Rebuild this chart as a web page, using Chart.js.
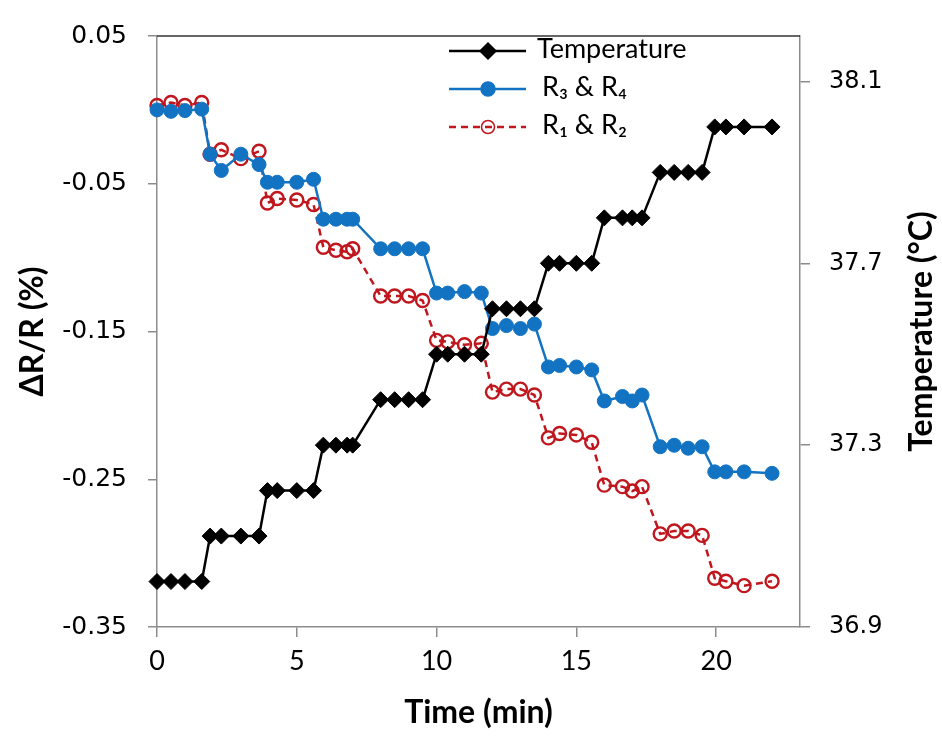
<!DOCTYPE html>
<html>
<head>
<meta charset="utf-8">
<script src="https://cdn.jsdelivr.net/npm/chart.js@4.4.1/dist/chart.umd.min.js"></script>
<style>
html, body { margin: 0; padding: 0; background: #fff; }
#wrap { width: 942px; height: 737px; }
</style>
</head>
<body>
<div id="wrap"><canvas id="myChart" width="942" height="737"></canvas></div>
<script>
// time of each reading (min)
var times = [
	0, 0.5, 1.0, 1.6,
	1.9, 2.3, 3.0, 3.65,
	3.95, 4.3, 5.0, 5.6,
	5.95, 6.4, 6.8, 7.0,
	8.0, 8.5, 9.0, 9.5,
	10.0, 10.4, 11.0, 11.6,
	12.0, 12.5, 13.0, 13.5,
	14.0, 14.4, 15.0, 15.55,
	16.0, 16.65, 17.0, 17.35,
	18.0, 18.5, 19.0, 19.5,
	19.95, 20.35, 21.0, 22.0
];
// temperature (°C), right axis
var temperature = [
	37.0, 37.0, 37.0, 37.0,
	37.1, 37.1, 37.1, 37.1,
	37.2, 37.2, 37.2, 37.2,
	37.3, 37.3, 37.3, 37.3,
	37.4, 37.4, 37.4, 37.4,
	37.5, 37.5, 37.5, 37.5,
	37.6, 37.6, 37.6, 37.6,
	37.7, 37.7, 37.7, 37.7,
	37.8, 37.8, 37.8, 37.8,
	37.9, 37.9, 37.9, 37.9,
	38.0, 38.0, 38.0, 38.0
];
// dR/R (%) of R3 & R4
var r34 = [
	0.000, -0.001, -0.0005, 0.0005,
	-0.030, -0.041, -0.030, -0.037,
	-0.049, -0.049, -0.049, -0.047,
	-0.074, -0.074, -0.074, -0.074,
	-0.094, -0.094, -0.094, -0.094,
	-0.124, -0.124, -0.123, -0.124,
	-0.148, -0.146, -0.148, -0.145,
	-0.174, -0.173, -0.174, -0.176,
	-0.197, -0.194, -0.197, -0.193,
	-0.228, -0.227, -0.229, -0.228,
	-0.245, -0.245, -0.245, -0.246
];
// dR/R (%) of R1 & R2
var r12 = [
	0.003, 0.005, 0.003, 0.005,
	-0.030, -0.027, -0.033, -0.028,
	-0.063, -0.060, -0.061, -0.064,
	-0.093, -0.095, -0.096, -0.094,
	-0.126, -0.126, -0.126, -0.129,
	-0.156, -0.157, -0.159, -0.158,
	-0.191, -0.189, -0.189, -0.193,
	-0.222, -0.219, -0.220, -0.225,
	-0.254, -0.255, -0.258, -0.255,
	-0.287, -0.285, -0.285, -0.288,
	-0.317, -0.319, -0.322, -0.319
];
var timeTicks = [0, 5, 10, 15, 20];
var ratioTicks = [-0.35, -0.25, -0.15, -0.05, 0.05];
var tempTicks = [36.9, 37.3, 37.7, 38.1];

var axisGray = '#8c8c8c';
var titleFont = {family: 'Lato', size: 32, weight: 'bold'};

function toPoints(ys) {
	return ys.map(function(y, i) { return {x: times[i], y: y}; });
}

function fixedTicks(list) {
	return function(scale) {
		scale.ticks = list.map(function(v) { return {value: v}; });
	};
}

// legend with a line sample and marker, plus the plot top border and right title
var extras = {
	id: 'extras',
	afterDraw: function(chart) {
		var ctx = chart.ctx;
		var area = chart.chartArea;
		ctx.save();
		ctx.strokeStyle = '#333';
		ctx.lineWidth = 1.5;
		ctx.beginPath();
		ctx.moveTo(area.left, area.top);
		ctx.lineTo(area.right, area.top);
		ctx.stroke();

		var rows = [0, 1, 2];
		for (var i in rows) {
			var ds = chart.data.datasets[i];
			var y = 51 + i * 38;
			ctx.save();
			ctx.strokeStyle = ds.borderColor;
			ctx.lineWidth = ds.borderWidth;
			ctx.setLineDash(ds.borderDash || []);
			ctx.beginPath();
			ctx.moveTo(449, y);
			ctx.lineTo(526, y);
			ctx.stroke();
			ctx.restore();
			ctx.save();
			ctx.strokeStyle = ds.borderColor;
			ctx.fillStyle = ds.pointBackgroundColor;
			Chart.helpers.drawPoint(ctx, {
				pointStyle: ds.pointStyle,
				radius: ds.pointRadius,
				rotation: 0,
				borderWidth: ds.pointBorderWidth
			}, 488, y);
			ctx.restore();
			ctx.fillStyle = '#000';
			ctx.font = '27px Lato';
			ctx.textBaseline = 'middle';
			ctx.textAlign = 'left';
			ctx.fillText(ds.label, i == 0 ? 537 : 542, y - 2);
		}

		ctx.translate(922, (area.top + area.bottom) / 2);
		ctx.rotate(-Math.PI / 2);
		ctx.font = 'bold 32px Lato';
		ctx.textAlign = 'center';
		ctx.textBaseline = 'middle';
		ctx.fillText('Temperature (°C)', 0, 0);
		ctx.restore();
	}
};

var ctx = document.getElementById('myChart');
var myChart = new Chart(ctx, {
	type: 'line',
	data: {
		datasets: [{
			label: 'Temperature',
			data: toPoints(temperature),
			yAxisID: 'y2',
			borderColor: '#000',
			borderWidth: 2.5,
			pointStyle: 'rectRot',
			pointRadius: 8,
			pointBorderWidth: 1,
			pointBackgroundColor: '#000',
			pointBorderColor: '#000',
			clip: false,
			order: 0
		}, {
			label: 'R₃ & R₄',
			data: toPoints(r34),
			yAxisID: 'y',
			borderColor: '#1373c3',
			borderWidth: 2.5,
			pointStyle: 'circle',
			pointRadius: 7,
			pointBorderWidth: 1,
			pointBackgroundColor: '#1373c3',
			pointBorderColor: '#1373c3',
			clip: false,
			order: 1
		}, {
			label: 'R₁ & R₂',
			data: toPoints(r12),
			yAxisID: 'y',
			borderColor: '#c0161e',
			borderWidth: 2.5,
			borderDash: [7, 5],
			pointStyle: 'circle',
			pointRadius: 6.5,
			pointBorderWidth: 2.4,
			pointBackgroundColor: 'rgba(255,255,255,0)',
			pointBorderColor: '#c0161e',
			clip: false,
			order: 2
		}]
	},
	options: {
		responsive: false,
		animation: false,
		layout: {padding: {top: 25}},
		elements: {line: {tension: 0}},
		plugins: {legend: {display: false}, tooltip: {enabled: false}},
		scales: {
			x: {
				type: 'linear',
				min: 0,
				max: 23,
				afterBuildTicks: fixedTicks(timeTicks),
				afterFit: function(s) { s.height = 110; },
				border: {color: axisGray, width: 1.5},
				grid: {drawOnChartArea: false, tickLength: 10, color: axisGray, lineWidth: 1.5},
				ticks: {color: '#000', font: {family: 'Lato', size: 27}, padding: 8, maxRotation: 0},
				title: {display: true, text: 'Time (min)', color: '#000', font: titleFont, padding: {bottom: 5}}
			},
			y: {
				position: 'left',
				min: -0.35,
				max: 0.05,
				afterBuildTicks: fixedTicks(ratioTicks),
				afterFit: function(s) { s.width = 157; },
				border: {color: axisGray, width: 1.5},
				grid: {drawOnChartArea: false, tickLength: 9, color: axisGray, lineWidth: 1.5},
				ticks: {
					color: '#000',
					font: {family: 'DejaVu Sans', size: 25},
					padding: 21,
					callback: function(v) { return v.toFixed(2); }
				},
				title: {display: true, text: 'ΔR/R (%)', color: '#000', font: titleFont, padding: {top: 13}}
			},
			y2: {
				position: 'right',
				min: 36.9,
				max: 38.2,
				afterBuildTicks: fixedTicks(tempTicks),
				afterFit: function(s) { s.width = 142; },
				border: {color: axisGray, width: 1.5},
				grid: {drawOnChartArea: false, tickLength: 10, color: axisGray, lineWidth: 1.5},
				ticks: {
					color: '#000',
					font: {family: 'DejaVu Sans', size: 24},
					padding: 19,
					callback: function(v) { return v.toFixed(1); }
				}
			}
		}
	},
	plugins: [extras]
});
</script>
</body>
</html>
